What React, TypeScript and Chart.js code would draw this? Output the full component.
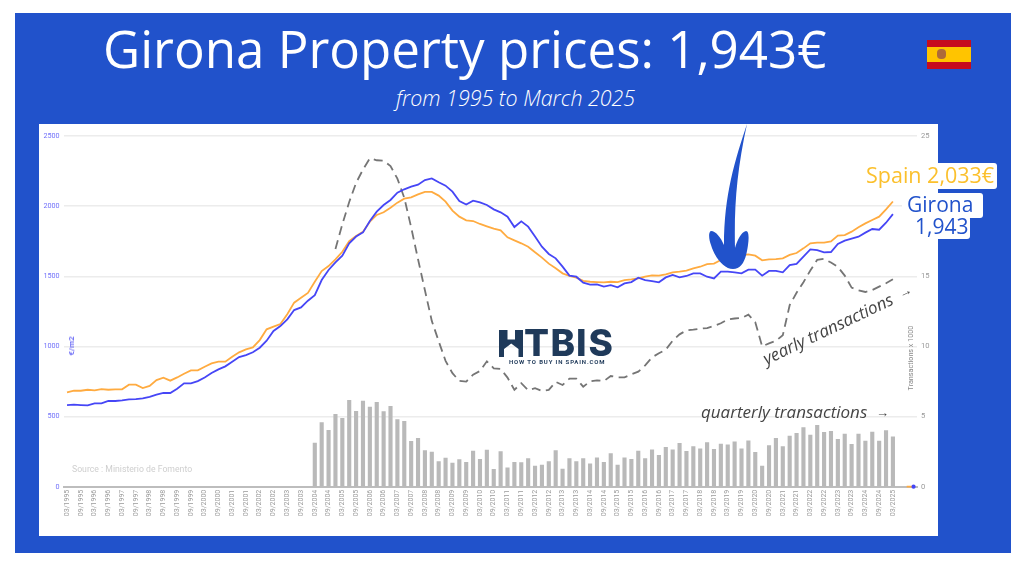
import React, { useEffect, useRef } from "react";
import { Chart, registerables } from "chart.js";

Chart.register(...registerables);

const years = [1995, 1996, 1997, 1998, 1999, 2000, 2001, 2002, 2003, 2004, 2005, 2006, 2007, 2008, 2009, 2010, 2011, 2012, 2013, 2014, 2015, 2016, 2017, 2018, 2019, 2020, 2021, 2022, 2023, 2024, 2025];
const months = ["03", "06", "09", "12"];
const categories: string[] = years.flatMap((y) => months.map((m) => `${m}/${y}`));

const gironaPrices = [
  582, 585, 582, 580, 594, 594, 611, 611, 615, 622, 625, 630, 641, 656, 668, 668, 699, 737, 737, 753, 779, 810, 836, 858, 891, 924, 938, 958, 991,
  1041, 1110, 1145, 1193, 1259, 1278, 1326, 1366, 1473, 1545, 1599, 1647, 1735, 1783, 1813,
  1894, 1961, 2008, 2044, 2096, 2120, 2139, 2153, 2186, 2198, 2170, 2146, 2103, 2037, 2011, 2039, 2027, 2008, 1977, 1956, 1925, 1851, 1892, 1854, 1783, 1711, 1659, 1628, 1569, 1505,
  1497, 1454, 1440, 1442, 1426, 1437, 1421, 1449, 1459, 1490, 1473, 1466, 1457, 1492, 1509, 1492, 1502, 1521, 1521, 1497, 1485, 1533,
  1533, 1528, 1521, 1547, 1547, 1504, 1538, 1538, 1528, 1580, 1588, 1640, 1692, 1687, 1671, 1673, 1730, 1754, 1768, 1782, 1811, 1837, 1832, 1882, 1943,
  null, null, 0,
];

const spainPrices = [
  672, 684, 684, 691, 687, 696, 691, 694, 694, 727, 727, 703, 718, 760, 777, 756, 779, 805, 829, 829, 855, 879, 891, 891, 927, 958, 979, 993, 1045,
  1122, 1141, 1160, 1229, 1312, 1347, 1381, 1461, 1537, 1573, 1621, 1675, 1751, 1787, 1818,
  1889, 1937, 1956, 1989, 2025, 2053, 2063, 2084, 2101, 2101, 2075, 2032, 1968, 1925, 1899, 1894, 1873, 1856, 1840, 1828, 1778, 1756, 1735, 1711, 1671, 1633, 1590, 1557, 1521, 1502,
  1490, 1468, 1461, 1459, 1457, 1461, 1459, 1473, 1478, 1485, 1497, 1506, 1504, 1514, 1528, 1533, 1540, 1556, 1568, 1587, 1590, 1616,
  1628, 1640, 1650, 1656, 1647, 1614, 1621, 1623, 1628, 1652, 1666, 1699, 1735, 1740, 1740, 1749, 1790, 1794, 1818, 1849, 1877, 1901, 1925, 1977, 2033,
  null, 0, 0,
];

const quarterlyStart = 36;
const quarterlyTransactions = [
  3.14, 4.59, 4.04, 5.18, 4.9, 6.18, 5.4, 6.13, 5.7, 6.04, 5.37, 5.75, 4.8, 4.68, 3.26, 3.47, 2.59, 2.5, 1.81, 2.07, 1.71, 1.95, 1.76, 2.57, 1.97, 2.64, 1.26, 2.52, 1.36, 1.76, 1.74, 2.02, 1.5, 1.57, 1.81, 2.59, 1.28, 2.02, 1.81, 2.02, 1.66, 2.09, 1.76, 2.38, 1.57, 2.09, 1.97, 2.57, 2.02, 2.66, 2.26, 2.83, 2.66, 3.11, 2.54, 2.88, 2.73, 3.16, 2.69, 3.07, 3.0, 3.23, 2.73, 3.3, 2.47, 1.5, 2.95, 3.47, 2.88, 3.64, 3.83, 4.23, 3.71, 4.4, 3.9, 3.97, 3.4, 3.78, 3.04, 3.78, 3.28, 3.92, 3.28, 4.02, 3.57,
];

const yearlyStart = 39;
const yearlyTransactions = [
  16.95, 18.71, 20.3, 21.66, 22.61, 23.41, 23.27, 23.24, 22.86, 21.96, 20.6, 18.49, 16.21, 14.0, 11.82, 10.37, 8.97, 8.09, 7.54, 7.49, 7.99, 8.25, 8.94, 8.44, 8.39, 7.78, 6.9, 7.38, 6.88, 7.02, 6.83, 6.9, 7.47, 7.25, 7.7, 7.7, 7.13, 7.51, 7.58, 7.53, 7.89, 7.8, 7.8, 8.01, 8.2, 8.65, 9.22, 9.51, 9.77, 10.41, 10.86, 11.14, 11.19, 11.26, 11.31, 11.46, 11.65, 11.92, 11.99, 12.03, 12.26, 11.73, 10.0, 10.22, 10.39, 10.8, 12.94, 13.82, 14.58, 15.41, 16.17, 16.24, 15.98, 15.67, 15.05, 14.19, 14.0, 13.88, 14.02, 14.26, 14.5, 14.79,
];

const BLUE = "#2152cb";
const NAVY = "#1f3a5a";
const SANS = '"Open Sans", sans-serif';

const pad = (n: number, values: number[]) => [...new Array(n).fill(null), ...values];

const abs = (left: number, top: number, extra: React.CSSProperties = {}): React.CSSProperties => ({
  position: "absolute",
  left,
  top,
  whiteSpace: "nowrap",
  ...extra,
});

const logoLetters: [string, number][] = [["T", 524], ["B", 550.5], ["I", 576], ["S", 588.5]];

export default function App() {
  const ref = useRef<HTMLCanvasElement>(null);

  useEffect(() => {
    const chart = new Chart(ref.current as HTMLCanvasElement, {
      type: "bar",
      data: {
        labels: categories.slice(0, 124),
        datasets: [
          {
            type: "line",
            label: "Girona",
            data: gironaPrices,
            yAxisID: "y",
            borderColor: "#4646f6",
            backgroundColor: "#4646f6",
            borderWidth: 1.8,
            pointRadius: (c: any) => (c.dataIndex === 123 ? 1.2 : 0),
            order: 1,
            spanGaps: false,
            clip: false,
          },
          {
            type: "line",
            label: "Spain",
            data: spainPrices,
            yAxisID: "y",
            borderColor: "#ffab40",
            borderWidth: 1.8,
            pointRadius: 0,
            order: 2,
            spanGaps: false,
            clip: false,
          },
          {
            type: "line",
            label: "Yearly transactions",
            data: pad(yearlyStart, yearlyTransactions),
            yAxisID: "y2",
            borderColor: "#757575",
            borderWidth: 1.8,
            borderDash: [9, 5.5],
            pointRadius: 0,
            order: 3,
          },
          {
            type: "bar",
            label: "Quarterly transactions",
            data: pad(quarterlyStart, quarterlyTransactions),
            yAxisID: "y2",
            backgroundColor: "#b9b9b9",
            categoryPercentage: 1,
            barPercentage: 0.6,
            order: 4,
          },
        ] as any,
      },
      options: {
        animation: false,
        responsive: false,
        layout: { padding: { top: 12, left: 0, right: 0, bottom: 0 } },
        plugins: { legend: { display: false }, tooltip: { enabled: false } },
        scales: {
          x: {
            grid: { display: false, drawTicks: false },
            border: { color: "#bdbdbd", width: 2 },
            ticks: {
              autoSkip: false,
              minRotation: 90,
              maxRotation: 90,
              padding: 3,
              color: "#9a9a9a",
              font: { family: "Roboto", size: 7 },
              callback: (_v: any, i: number) => (i % 2 === 0 && i <= 120 ? categories[i] : ""),
            },
            afterFit: (s: any) => {
              s.height = 49.3;
            },
          },
          y: {
            position: "left",
            min: 0,
            max: 2500,
            ticks: {
              stepSize: 500,
              padding: 4,
              color: "#7070fa",
              font: { family: "Roboto", size: 7.2 },
              callback: (v: any) => String(v),
            },
            grid: { color: "#ececec", lineWidth: 1.4, drawTicks: false },
            border: { display: false },
            afterFit: (s: any) => {
              s.width = 24.6;
            },
          },
          y2: {
            position: "right",
            min: 0,
            max: 25,
            ticks: {
              stepSize: 5,
              padding: 4,
              color: "#9a9a9a",
              font: { family: "Roboto", size: 7.6 },
            },
            grid: { display: false, drawTicks: false },
            border: { display: false },
            afterFit: (s: any) => {
              s.width = 21;
            },
          },
        },
      } as any,
    });
    return () => chart.destroy();
  }, []);

  return (
    <div style={{ position: "absolute", left: 0, top: 0, width: 1024, height: 566, background: "#fff", overflow: "hidden", fontFamily: SANS }}>
      <div style={{ position: "absolute", left: 15, top: 13, width: 996, height: 540, background: BLUE }} />
      <div style={abs(103, 12, { color: "#fff", fontSize: 51.1, lineHeight: "72px", fontWeight: 400 })}>Girona Property prices: 1,943€</div>
      <div style={abs(396, 84, { color: "#fff", fontSize: 21.4, lineHeight: "28px", fontStyle: "italic", fontWeight: 300 })}>from 1995 to March 2025</div>

      <div style={{ position: "absolute", left: 927, top: 40, width: 44, height: 29, background: "#c60b1e" }} />
      <div style={{ position: "absolute", left: 927, top: 47, width: 44, height: 15, background: "#ffc400" }} />
      <div style={{ position: "absolute", left: 937, top: 49, width: 9, height: 10, borderRadius: 4, background: "#ad6a3a" }} />

      <div style={{ position: "absolute", left: 39, top: 124, width: 899, height: 412, background: "#fff" }}>
        <canvas ref={ref} width={899} height={412} style={{ display: "block" }} />
      </div>

      <div style={abs(72, 463, { color: "#cfcfcf", fontFamily: "Roboto", fontSize: 8.7, lineHeight: "12px" })}>Source : Ministerio de Fomento</div>
      <div style={abs(72, 346, { color: "#5a5af5", fontFamily: "Roboto", fontWeight: 500, fontSize: 8, lineHeight: "10px", transform: "translate(-50%,-50%) rotate(-90deg)" })}>€/m2</div>
      <div style={abs(911, 358, { color: "#8a8a8a", fontFamily: "Roboto", fontSize: 7.2, lineHeight: "10px", transform: "translate(-50%,-50%) rotate(-90deg)" })}>Transactions x 1000</div>

      <div style={{ position: "absolute", left: 864, top: 163, width: 133, height: 26, background: "#fff", borderRadius: 3 }} />
      <div style={abs(866, 159, { color: "#fbc02d", fontSize: 21.5, lineHeight: "32px" })}>Spain 2,033€</div>
      <div style={{ position: "absolute", left: 902, top: 193, width: 81, height: 25, background: "#fff", borderRadius: 3 }} />
      <div style={{ position: "absolute", left: 910, top: 216, width: 60, height: 23, background: "#fff", borderRadius: 3 }} />
      <div style={abs(907, 189, { color: BLUE, fontSize: 21, lineHeight: "30px" })}>Girona</div>
      <div style={abs(915, 211, { color: BLUE, fontSize: 21, lineHeight: "30px" })}>1,943</div>

      <div style={abs(701, 401, { color: "#444", fontSize: 17, lineHeight: "22px", fontStyle: "italic" })}>quarterly transactions</div>
      <div style={abs(876, 402, { color: "#444", fontSize: 13, lineHeight: "20px" })}>→</div>
      <div style={abs(828, 329, { color: "#444", fontSize: 17, lineHeight: "22px", fontStyle: "italic", transform: "translate(-50%,-50%) rotate(-25.5deg)" })}>yearly transactions</div>
      <div style={abs(905, 291, { color: "#444", fontSize: 13, lineHeight: "16px", transform: "translate(-50%,-50%) rotate(-25deg)" })}>→</div>

      <svg width={1024} height={566} style={{ position: "absolute", left: 0, top: 0, pointerEvents: "none" }}>
        <path
          d="M747 124 C735 160 724 195 724 245 C721 238 716 231 711 231 C708 232 709 240 711 245 C715 258 724 269 733 269 C742 269 746 260 748 245 C749 238 749 231 746 231 C741 232 737 241 735 248 C734 205 737 170 747 124 Z"
          fill={BLUE}
        />
        <path d="M499 330 H507.5 V339.5 H515 V330 H523 V357 H518.5 V349 L511.2 343.5 L504 349 V357 H499 Z" fill={NAVY} />
      </svg>
      {logoLetters.map(([letter, left]) => (
        <div key={letter} style={abs(left, 321, { color: NAVY, fontFamily: "Inter, Roboto, sans-serif", fontWeight: 800, fontSize: 37, lineHeight: "44px" })}>
          {letter}
        </div>
      ))}
      <div style={abs(509, 357, { color: NAVY, fontFamily: "Roboto", fontWeight: 700, fontSize: 6, lineHeight: "9px", letterSpacing: 0.85 })}>HOW TO BUY IN SPAIN.COM</div>
    </div>
  );
}
